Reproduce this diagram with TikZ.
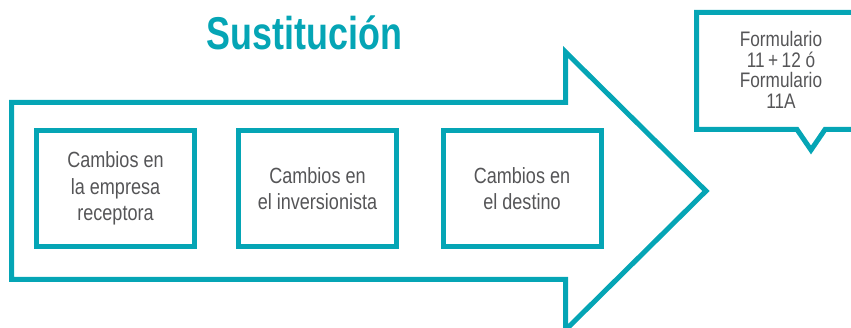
\documentclass[tikz,border=0pt]{standalone}
\usepackage{fontspec}
\newfontfamily\titlefont[FakeStretch=0.78]{Liberation Sans}
\newfontfamily\bodyfont[FakeStretch=0.82]{Liberation Sans}
\definecolor{sustteal}{HTML}{05A5B5}
\definecolor{txtgray}{HTML}{555557}

\begin{document}
\begin{tikzpicture}[x=1pt,y=1pt,
	cajon/.style={draw=sustteal,line width=5pt,minimum width=158pt,minimum height=116pt,
		inner sep=0pt,align=center,text=txtgray,font=\bodyfont\fontsize{22}{26.5}\selectfont}]
\useasboundingbox (0,0) rectangle (851,328);
\clip (0,0) rectangle (851,328);

% flecha grande
\draw[sustteal,line width=5pt,line join=miter] (11.5,225.5) -- (565.5,225.5) -- (565.5,276)
	-- (706,137) -- (565.5,-2) -- (565.5,48.5) -- (11.5,48.5) -- cycle;

\node[font=\titlefont\bfseries\fontsize{46}{46}\selectfont,text=sustteal,anchor=base] (titulo)
	at (304.5,278) {Sustitución};

\foreach \i/\x/\txt in {1/115.5/{Cambios en\\la empresa\\receptora},
	2/317.5/{Cambios en\\el inversionista},
	3/522/{Cambios en\\el destino}}
	{\node[cajon] (cambio\i) at (\x,139.5) {\txt};}

% globo
\draw[sustteal,line width=5pt,line join=miter] (696.5,315.5) -- (870,315.5) -- (870,198.5)
	-- (825,198.5) -- (811,178) -- (797,198.5) -- (696.5,198.5) -- cycle;
\node[font=\bodyfont\fontsize{21}{20.7}\selectfont,text=txtgray,align=center,inner sep=0pt] (formulario)
	at (781,258) {Formulario\\11\,+\,12 ó\\Formulario\\11A};
\end{tikzpicture}
\end{document}
